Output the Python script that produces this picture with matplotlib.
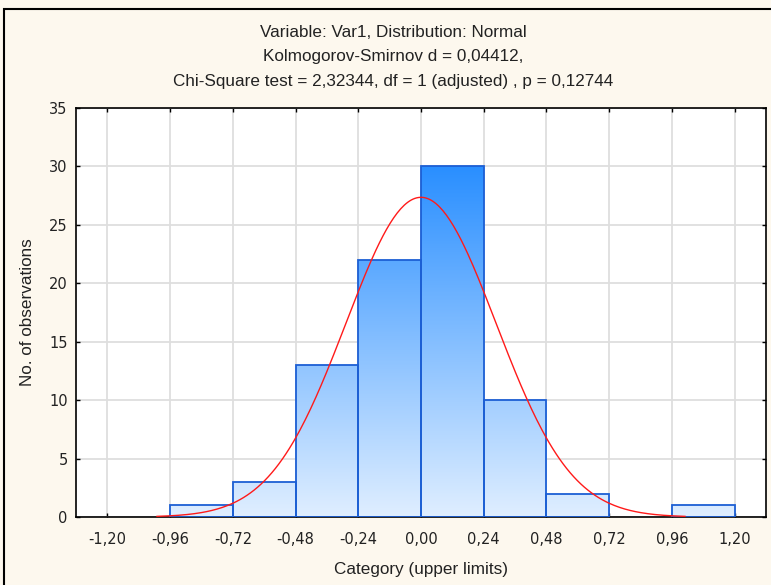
import matplotlib.pyplot as plt
import numpy as np
from matplotlib.patches import Rectangle
from matplotlib.colors import LinearSegmentedColormap

plt.rcParams['font.family'] = ['Liberation Sans', 'DejaVu Sans']

# ---------- data

bin_edges = [-1.20, -0.96, -0.72, -0.48, -0.24, 0.00, 0.24, 0.48, 0.72, 0.96, 1.20]
counts = [0, 1, 3, 13, 22, 30, 10, 2, 0, 1]
tick_vals = [-1.20, -0.96, -0.72, -0.48, -0.24, 0.00, 0.24, 0.48, 0.72, 0.96, 1.20]
tick_labels = ['-1,20', '-0,96', '-0,72', '-0,48', '-0,24', '0,00',
               '0,24', '0,48', '0,72', '0,96', '1,20']
fit_mean = 0.0
fit_sd = 0.287
curve_range = (-1.01, 1.01)

titles = ["Variable: Var1, Distribution: Normal",
          "Kolmogorov-Smirnov d = 0,04412,",
          "Chi-Square test = 2,32344, df = 1 (adjusted) , p = 0,12744"]

# --------------------------------------------------------------------------------

bg = '#fdf8ee'
fig = plt.figure(figsize=(7.71, 5.85), dpi=100, facecolor=bg)
ax = fig.add_axes([76 / 771, 68 / 585, 690 / 771, 409 / 585])
ax.set_facecolor('white')

# outer frame
fig.patches.append(Rectangle((4 / 771, -0.05), 1.0, 1 - 9 / 585 + 0.05,
                             transform=fig.transFigure, fill=False,
                             edgecolor='black', linewidth=1.5))

ax.set_xlim(-1.32, 1.32)
ax.set_ylim(0, 35)

# grid
ax.set_xticks(tick_vals)
ax.set_xticklabels(tick_labels)
ax.set_yticks(range(0, 36, 5))
ax.grid(True, color='#dedede', linewidth=1.3, zorder=0)
ax.set_axisbelow(True)
ax.tick_params(direction='in', length=3, width=1, top=True, right=True,
               labelsize=10.5, pad=10.5)
ax.tick_params(axis='y', pad=6)
for lab in ax.get_xticklabels() + ax.get_yticklabels():
    lab.set_family('DejaVu Sans')
    lab.set_color('#222222')
for s in ax.spines.values():
    s.set_linewidth(1.2)

# bars with vertical gradient (global in y)
cmap = LinearSegmentedColormap.from_list('grad', ['#dfeeff', '#2a8fff'])
grad = np.linspace(0, 35 / 30, 200).reshape(-1, 1)
for i, c in enumerate(counts):
    if c <= 0:
        continue
    x0, x1 = bin_edges[i], bin_edges[i + 1]
    rect = Rectangle((x0, 0), x1 - x0, c, facecolor='none',
                     edgecolor='#1c5fd4', linewidth=1.3, zorder=3)
    ax.add_patch(rect)
    im = ax.imshow(grad, cmap=cmap, vmin=0, vmax=1, origin='lower',
                   extent=[x0, x1, 0, 35], aspect='auto', zorder=2,
                   interpolation='bilinear')
    im.set_clip_path(rect)

# fitted normal curve (expected counts per bin)
n = sum(counts)
bw = bin_edges[1] - bin_edges[0]
xs = np.linspace(curve_range[0], curve_range[1], 300)
ys = n * bw * np.exp(-0.5 * ((xs - fit_mean) / fit_sd) ** 2) / (fit_sd * np.sqrt(2 * np.pi))
ax.plot(xs, ys, color='#ff1a1a', linewidth=1.0, zorder=4, clip_on=False)

ax.set_xlim(-1.32, 1.32)
ax.set_ylim(0, 35)

# titles and labels
for k, t in enumerate(titles):
    fig.text(393 / 771, 1 - (32.5 + 24.5 * k) / 585, t, ha='center', va='center',
             fontsize=12.3, color='#222222')
ax.set_xlabel('Category (upper limits)', fontsize=12.3, labelpad=11, color='#222222')
ax.set_ylabel('No. of observations', fontsize=12.3, labelpad=10, color='#222222')

fig.savefig('out.png', dpi=100, facecolor=bg)
